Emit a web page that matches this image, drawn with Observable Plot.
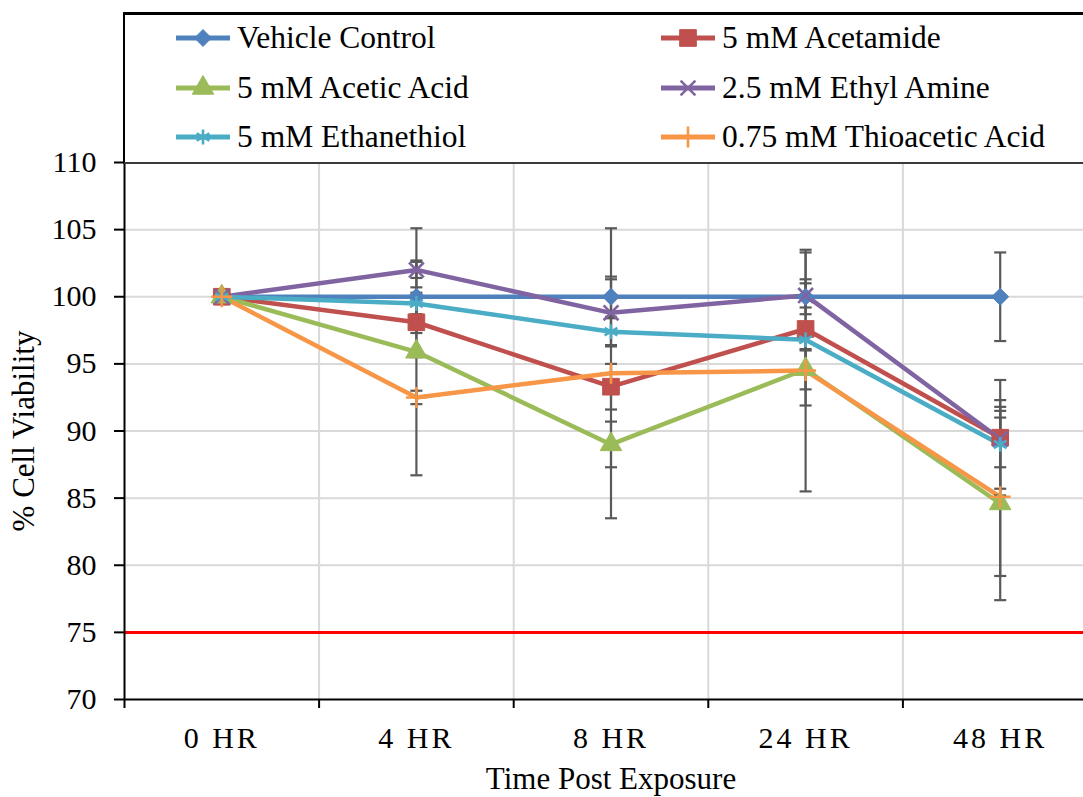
<!DOCTYPE html>
<html>
<head>
<meta charset="utf-8">
<script src="https://cdn.jsdelivr.net/npm/d3@7"></script>
<script src="https://cdn.jsdelivr.net/npm/@observablehq/plot@0.6"></script>
<style>
  body { margin: 0; background: #fff; }
  #wrap { position: relative; width: 1083px; height: 797px; overflow: hidden; font-family: "Liberation Serif", "Times New Roman", serif; }
  #chart { position: absolute; left: 0; top: 0; }
  #legend { position: absolute; left: 123px; top: 12px; width: 1000px; height: 147px;
            border-top: 3px solid #000; border-left: 2px solid #000; border-bottom: 2px solid #3a3a3a; background: transparent; }
  .item { position: absolute; display: flex; align-items: center; font-family: "Liberation Serif", "Times New Roman", serif; font-size: 31.5px; color: #000; white-space: nowrap; height: 34px; }
  .item svg { margin-right: 7px; overflow: visible; }
</style>
</head>
<body>
<div id="wrap">
  <div id="chart"></div>
  <div id="legend"></div>
</div>
<script>
// ---------- data ----------
const categories = ["0 HR", "4 HR", "8 HR", "24 HR", "48 HR"];
const seriesNames = ["Vehicle Control", "5 mM Acetamide", "5 mM Acetic Acid", "2.5 mM Ethyl Amine", "5 mM Ethanethiol", "0.75 mM Thioacetic Acid"];

const vehicleControl    = [100, 100.0, 100.0, 100.0, 100.0];
const acetamide         = [100,  98.1,  93.3,  97.6,  89.5];
const aceticAcid        = [100,  95.9,  89.0,  94.6,  84.6];
const ethylAmine        = [100, 102.0,  98.8, 100.1,  89.4];
const ethanethiol       = [100,  99.5,  97.4,  96.8,  89.0];
const thioaceticAcid    = [100,  92.5,  94.3,  94.5,  85.1];

const vehicleControlErr = [0, 2.7,  1.5, 1.3, 3.3];
const acetamideErr      = [0, 2.6,  1.7, 5.7, 4.3];
const aceticAcidErr     = [0, 9.2,  1.7, 1.5, 7.2];
const ethylAmineErr     = [0, 0.6,  2.5, 0.9, 2.1];
const ethanethiolErr    = [0, 0.8,  1.0, 0.8, 3.3];
const thioaceticAcidErr = [0, 0.5, 10.8, 9.0, 5.9];

const yTicks = [70, 75, 80, 85, 90, 95, 100, 105, 110];
const threshold = [75];
const xTitle = ["Time Post Exposure"];
const yTitle = ["% Cell Viability"];

// ---------- styles ----------
const seriesColors  = ["#4F81BD", "#C0504D", "#9BBB59", "#8064A2", "#4BACC6", "#F79646"];
const seriesSymbols = ["diamond2", "square", "triangle", "times", "asterisk", "plus"];
const symbolFilled  = [true, true, true, false, false, false];
const symbolR       = [7.6, 9.4, 8.0, 6.8, 7.0, 6.8];

const valueArrays = [vehicleControl, acetamide, aceticAcid, ethylAmine, ethanethiol, thioaceticAcid];
const errArrays   = [vehicleControlErr, acetamideErr, aceticAcidErr, ethylAmineErr, ethanethiolErr, thioaceticAcidErr];

const rows = seriesNames.flatMap((name, s) =>
  categories.map((c, i) => ({name, s, i, v: valueArrays[s][i], e: errArrays[s][i]})));
const errRows = rows.filter(d => d.e > 0);
const caps = errRows.flatMap(d => [{i: d.i, y: d.v - d.e}, {i: d.i, y: d.v + d.e}]);

const xDomain = [-0.5, categories.length - 0.5];
const boundaries = d3.range(xDomain[0], xDomain[1] + 0.01, 1);   // band edges
const innerBoundaries = boundaries.slice(1, -1);
const xIndex = categories.map((c, i) => i);

const capSymbol = {
  draw(context, size) {
    const w = Math.sqrt(size) / 2;
    context.moveTo(-w, 0);
    context.lineTo(w, 0);
  }
};

const errColor = "#595959";

const chart = Plot.plot({
  width: 1083,
  height: 797,
  marginTop: 162,
  marginBottom: 98,
  marginLeft: 124,
  marginRight: -14,
  style: {fontFamily: "'Liberation Serif', 'Times New Roman', serif", fontSize: "30px", color: "#000", background: "transparent"},
  x: {domain: xDomain},
  y: {domain: [yTicks[0], yTicks[yTicks.length - 1]]},
  marks: [
    Plot.ruleY(yTicks.slice(1, -1), {stroke: "#d9d9d9", strokeWidth: 2}),
    Plot.ruleX(innerBoundaries, {stroke: "#d9d9d9", strokeWidth: 2}),
    Plot.ruleY(threshold, {stroke: "#ff0000", strokeWidth: 3}),
    ...seriesNames.map((name, s) =>
      Plot.line(rows.filter(d => d.s === s), {x: "i", y: "v", stroke: seriesColors[s], strokeWidth: 4.5, strokeLinejoin: "round"})),
    Plot.ruleX(errRows, {x: "i", y1: d => d.v - d.e, y2: d => d.v + d.e, stroke: errColor, strokeWidth: 2.2}),
    Plot.dot(caps, {x: "i", y: "y", symbol: capSymbol, r: 6.8, stroke: errColor, strokeWidth: 2.2}),
    ...seriesNames.map((name, s) =>
      Plot.dot(rows.filter(d => d.s === s), {
        x: "i", y: "v", symbol: seriesSymbols[s], r: symbolR[s],
        fill: symbolFilled[s] ? seriesColors[s] : "none",
        stroke: seriesColors[s], strokeWidth: symbolFilled[s] ? 1 : 2.6
      })),
    Plot.ruleY([yTicks[0]], {stroke: "#000", strokeWidth: 2}),
    Plot.ruleX([xDomain[0]], {stroke: "#000", strokeWidth: 2}),
    Plot.axisY({ticks: yTicks, tickSize: 10, tickPadding: 18, label: null, stroke: "#000", strokeWidth: 2}),
    Plot.axisX({ticks: boundaries, tickFormat: () => "", tickSize: 9, label: null, stroke: "#000", strokeWidth: 2}),
    Plot.axisX({ticks: xIndex, tickFormat: i => categories[i], tickSize: 0, tickPadding: 27, label: null}),
    Plot.text(xTitle, {frameAnchor: "bottom", dy: 89, lineAnchor: "bottom", fontSize: 31, fill: "#000"}),
    Plot.text(yTitle, {frameAnchor: "left", dx: -100, rotate: -90, textAnchor: "middle", fontSize: 31, fill: "#000"})
  ]
});

d3.select(chart).selectAll("[aria-label='x-axis tick label'] text").style("letter-spacing", "3px");
document.getElementById("chart").appendChild(chart);

// ---------- legend (HTML) ----------
const legend = d3.select("#legend");
const colLeft = [51, 536];
const rowCenter = [23, 73, 122];
const symMap = {diamond2: d3.symbolDiamond2, square: d3.symbolSquare, triangle: d3.symbolTriangle,
                times: d3.symbolTimes, asterisk: d3.symbolAsterisk, plus: d3.symbolPlus};
seriesNames.forEach((name, s) => {
  const col = s % 2, row = Math.floor(s / 2);
  const item = legend.append("div").attr("class", "item")
    .style("left", colLeft[col] + "px")
    .style("top", (rowCenter[row] - 17) + "px");
  const svg = item.append("svg").attr("width", 54).attr("height", 24);
  svg.append("line").attr("x1", 0).attr("x2", 54).attr("y1", 12).attr("y2", 12)
    .attr("stroke", seriesColors[s]).attr("stroke-width", 5);
  const size = Math.PI * symbolR[s] * symbolR[s];
  svg.append("path")
    .attr("transform", "translate(27,12)")
    .attr("d", d3.symbol(symMap[seriesSymbols[s]], size)())
    .attr("fill", symbolFilled[s] ? seriesColors[s] : "none")
    .attr("stroke", seriesColors[s])
    .attr("stroke-width", symbolFilled[s] ? 1 : 2.6);
  item.append("span").text(name);
});
</script>
</body>
</html>
